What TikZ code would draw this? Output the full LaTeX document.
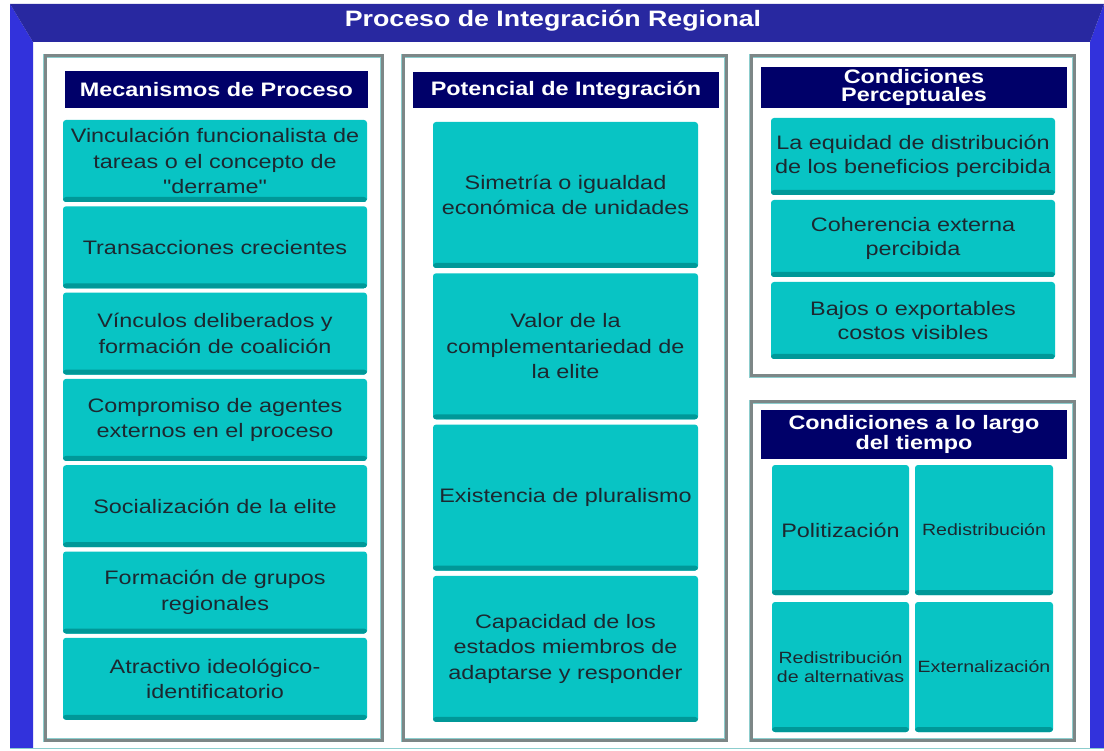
\documentclass[tikz,border=0pt]{standalone}
\usepackage{fontspec}
\setmainfont{Liberation Sans}
\newfontfamily\wfont[FakeStretch=1.2]{Liberation Sans}
\definecolor{topB}{RGB}{40,40,160}
\definecolor{sideB}{RGB}{50,50,220}
\definecolor{navyH}{RGB}{0,0,105}
\definecolor{cyanF}{RGB}{8,196,196}
\definecolor{cyanD}{RGB}{0,152,152}
\definecolor{textc}{RGB}{28,40,48}
\definecolor{panelG}{RGB}{125,135,135}
\definecolor{panelT}{RGB}{140,205,205}
\tikzset{
  panel/.style={draw=panelT, double=panelG, line width=0.7pt, double distance=3pt,
    fill=white, anchor=north west, inner sep=0pt, outer sep=0pt},
  header/.style={fill=navyH, text=white, anchor=north west, inner sep=0pt, outer sep=0pt,
    align=center, font=\wfont\bfseries\fontsize{19.5}{16.5}\selectfont},
  cbox/.style={fill=cyanF, anchor=north west, inner sep=0pt, outer sep=0pt, rounded corners=3pt,
    align=center, text=textc, font=\wfont\fontsize{19.5}{25.5}\selectfont,
    path picture={\fill[cyanD] ([yshift=5pt]path picture bounding box.south west) rectangle (path picture bounding box.south east);}},
  smalltext/.style={font=\wfont\fontsize{16.3}{19}\selectfont}
}
\begin{document}
\begin{tikzpicture}[x=1pt,y=-1pt]
\useasboundingbox (0,0) rectangle (1104,751);
\fill[white] (0,0) rectangle (1104,751);
% outer frame
\fill[sideB] (10,4) -- (33,42) -- (33,748) -- (10,748) -- cycle;
\fill[sideB] (1104,4) -- (1090,42) -- (1090,748) -- (1104,748) -- cycle;
\fill[topB] (10,4) -- (1104,4) -- (1090,42) -- (33,42) -- cycle;
\draw[panelT, line width=0.8pt] (10,748.5) -- (1104,748.5);
\node[text=white, font=\wfont\bfseries\fontsize{22.3}{26}\selectfont] (title) at (553,21) {Proceso de Integración Regional};
% panels
\node[panel, minimum width=337, minimum height=684] (p1) at (45,56) {};
\node[panel, minimum width=323, minimum height=684] (p2) at (403,56) {};
\node[panel, minimum width=323, minimum height=320] (p3) at (751,56) {};
\node[panel, minimum width=323, minimum height=338] (p4) at (751,402) {};
% headers
\node[header, minimum width=303, minimum height=37] (h1) at (65,71) {Mecanismos de Proceso};
\node[header, minimum width=306, minimum height=36] (h2) at (413,72) {Potencial de Integración};
\node[header, minimum width=306, minimum height=41, font=\wfont\bfseries\fontsize{19.5}{17.5}\selectfont] (h3) at (761,67) {Condiciones\\Perceptuales};
\node[header, minimum width=306, minimum height=49] (h4) at (761,410) {Condiciones a lo largo\\del tiempo};
% column 1
\node[cbox, minimum width=304, minimum height=82] (a1) at (63,120.0) {Vinculación funcionalista de\\tareas o el concepto de\\"derrame"};
\node[cbox, minimum width=304, minimum height=82] (a2) at (63,206.3) {Transacciones crecientes};
\node[cbox, minimum width=304, minimum height=82] (a3) at (63,292.6) {Vínculos deliberados y\\formación de coalición};
\node[cbox, minimum width=304, minimum height=82] (a4) at (63,378.9) {Compromiso de agentes\\externos en el proceso};
\node[cbox, minimum width=304, minimum height=82] (a5) at (63,465.2) {Socialización de la elite};
\node[cbox, minimum width=304, minimum height=82] (a6) at (63,551.5) {Formación de grupos\\regionales};
\node[cbox, minimum width=304, minimum height=82] (a7) at (63,637.8) {Atractivo ideológico-\\identificatorio};
% column 2
\node[cbox, minimum width=265, minimum height=146] (b1) at (433,122.0) {Simetría o igualdad\\económica de unidades};
\node[cbox, minimum width=265, minimum height=146] (b2) at (433,273.3) {Valor de la\\complementariedad de\\la elite};
\node[cbox, minimum width=265, minimum height=146] (b3) at (433,424.6) {Existencia de pluralismo};
\node[cbox, minimum width=265, minimum height=146] (b4) at (433,575.9) {Capacidad de los\\estados miembros de\\adaptarse y responder};
% column 3
\node[cbox, minimum width=284, minimum height=77, font=\wfont\fontsize{19.5}{24}\selectfont] (c1) at (771,118) {La equidad de distribución\\de los beneficios percibida};
\node[cbox, minimum width=284, minimum height=77, font=\wfont\fontsize{19.5}{24}\selectfont] (c2) at (771,200) {Coherencia externa\\percibida};
\node[cbox, minimum width=284, minimum height=77, font=\wfont\fontsize{19.5}{24}\selectfont] (c3) at (771,282) {Bajos o exportables\\costos visibles};
% column 4 grid
\node[cbox, minimum width=137, minimum height=130] (d1) at (772,465) {Politización};
\node[cbox, minimum width=138, minimum height=130, smalltext] (d2) at (915,465) {Redistribución};
\node[cbox, minimum width=137, minimum height=130, smalltext] (d3) at (772,602) {Redistribución\\de alternativas};
\node[cbox, minimum width=138, minimum height=130, smalltext] (d4) at (915,602) {Externalización};
\end{tikzpicture}
\end{document}
